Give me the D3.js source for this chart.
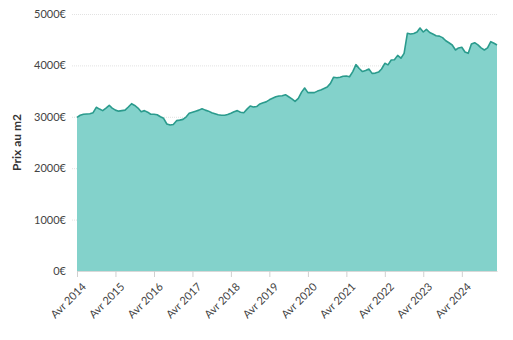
<!DOCTYPE html>
<html>
<head>
<meta charset="utf-8">
<script src="https://cdn.jsdelivr.net/npm/d3@7"></script>
<style>
  html, body { margin: 0; padding: 0; background: #fff; }
  svg { display: block; font-family: Lato, "Open Sans", sans-serif; }
</style>
</head>
<body>
<svg id="chart" width="513" height="340"></svg>
<script>
// Monthly price per m2, April 2014 -> March 2025
const startYear = 2014;
const startMonth = 3; // April (0-based)
const prices = [
  2990, 3030, 3050, 3055, 3060, 3080, 3185, 3150, 3120, 3170, 3224, 3170,
  3130, 3110, 3120, 3130, 3190, 3255, 3220, 3170, 3100, 3120, 3090, 3050,
  3050, 3040, 3000, 2970, 2860, 2840, 2850, 2925, 2935, 2950, 3000, 3068,
  3090, 3110, 3130, 3158, 3130, 3110, 3080, 3060, 3040, 3030, 3030, 3045,
  3070, 3100, 3120, 3090, 3080, 3150, 3210, 3190, 3200, 3250, 3275, 3290,
  3330, 3360, 3390, 3405, 3410, 3430, 3390, 3350, 3300, 3360, 3480, 3560,
  3470, 3470, 3470, 3500, 3520, 3550, 3580, 3650, 3770, 3760, 3770, 3790,
  3795, 3780, 3880, 4015, 3940, 3880, 3900, 3930, 3845, 3850, 3870, 3930,
  4040, 4010, 4105, 4110, 4195, 4140, 4235, 4625, 4610, 4620, 4650, 4728,
  4650, 4702, 4640, 4610, 4578, 4570, 4540, 4480, 4440, 4397, 4300, 4340,
  4352, 4260, 4235, 4416, 4442, 4400, 4340, 4300, 4340, 4461, 4430, 4397
];
const yTicks = [0, 1000, 2000, 3000, 4000, 5000];
const xTickYears = [2014, 2015, 2016, 2017, 2018, 2019, 2020, 2021, 2022, 2023, 2024];
const yTitle = "Prix au m2";

const data = prices.map((v, i) => ({ date: new Date(startYear, startMonth + i, 1), value: v }));

const svg = d3.select("#chart");
const margin = { top: 14, right: 16, bottom: 69, left: 77 };
const W = 513, H = 340;

const x = d3.scaleTime()
  .domain(d3.extent(data, d => d.date))
  .range([margin.left, W - margin.right]);
const y = d3.scaleLinear()
  .domain([0, 5000])
  .range([H - margin.bottom, margin.top]);

// gridlines
svg.append("g")
  .selectAll("line")
  .data(yTicks.filter(t => t > 0))
  .join("line")
  .attr("x1", margin.left - 5)
  .attr("x2", W - margin.right)
  .attr("y1", d => y(d) + 0.5)
  .attr("y2", d => y(d) + 0.5)
  .attr("stroke", "#e2e2e2")
  .attr("stroke-width", 1)
  .attr("stroke-dasharray", "1,1");

// area
const area = d3.area()
  .x(d => x(d.date))
  .y0(y(0))
  .y1(d => y(d.value));
svg.append("path")
  .datum(data)
  .attr("d", area)
  .attr("fill", "#83d2cb");

const line = d3.line()
  .x(d => x(d.date))
  .y(d => y(d.value));
svg.append("path")
  .datum(data)
  .attr("d", line)
  .attr("fill", "none")
  .attr("stroke", "#2b9b8d")
  .attr("stroke-width", 1.6)
  .attr("stroke-linejoin", "round");

// y axis
const yAxis = d3.axisLeft(y)
  .tickValues(yTicks)
  .tickFormat(d => d + "€")
  .tickSize(0)
  .tickPadding(11);
const gy = svg.append("g")
  .attr("transform", `translate(${margin.left},0)`)
  .call(yAxis);
gy.select(".domain").remove();
gy.selectAll("text")
  .attr("fill", "#444")
  .style("font-size", "11px")
  .style("font-family", "Lato, sans-serif");

// x axis
const xAxis = d3.axisBottom(x)
  .tickValues(xTickYears.map(yr => new Date(yr, 3, 1)))
  .tickFormat(d => "Avr " + d.getFullYear())
  .tickSize(6)
  .tickSizeOuter(0);
const gx = svg.append("g")
  .attr("transform", `translate(0,${H - margin.bottom})`)
  .call(xAxis);
gx.select(".domain").attr("stroke", "#d8d8d8");
gx.selectAll(".tick line").attr("stroke", "#d0d0d0");
gx.selectAll("text")
  .attr("fill", "#444")
  .style("font-size", "11px")
  .style("font-family", "Lato, sans-serif")
  .attr("text-anchor", "end")
  .attr("dx", "0")
  .attr("dy", "0")
  .attr("transform", "translate(3,10) rotate(-45)");

// y title
svg.append("text")
  .attr("transform", `translate(21,${(margin.top + H - margin.bottom) / 2}) rotate(-90)`)
  .attr("text-anchor", "middle")
  .attr("fill", "#333")
  .style("font-size", "12px")
  .style("font-weight", "bold")
  .style("font-family", "Lato, sans-serif")
  .text(yTitle);
</script>
</body>
</html>
